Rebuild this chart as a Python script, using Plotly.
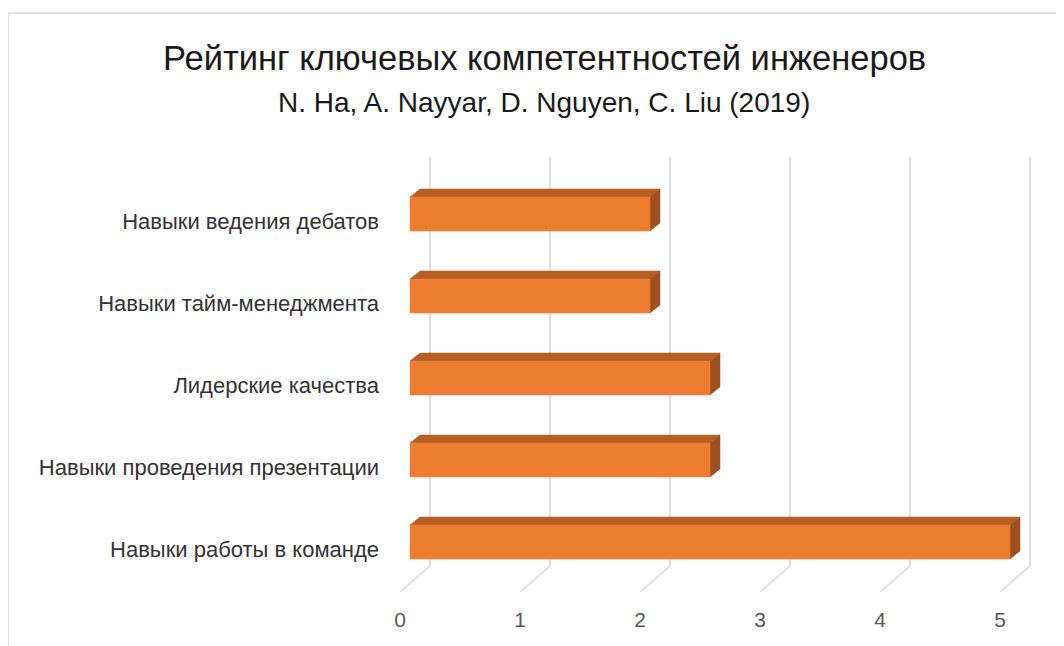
import plotly.graph_objects as go

# ---- data ----
categories = [
    "Навыки работы в команде",
    "Навыки проведения презентации",
    "Лидерские качества",
    "Навыки тайм-менеджмента",
    "Навыки ведения дебатов",
]
values = [5, 2.5, 2.5, 2, 2]
x_ticks = [0, 1, 2, 3, 4, 5]
title_text = "Рейтинг ключевых компетентностей инженеров"
subtitle_text = "N. Ha, A. Nayyar, D. Nguyen, C. Liu (2019)"

# ---- style / geometry (figure pixel coords; page adds 8px body margin) ----
W, H = 1064, 646
OFF = 8
L, R, T, B = 400 - OFF, W - (1040 - OFF), 140 - OFF, H - (596 - OFF)
PX_PER_X = 120.0
PX_PER_Y = 82.0
plot_w = W - L - R
plot_h = H - T - B
x_range = [0, plot_w / PX_PER_X]
CAT0 = 542 - OFF  # figure pixel of first category's centre
y_lo = -((H - B) - CAT0) / PX_PER_Y
y_hi = y_lo + plot_h / PX_PER_Y

bar_w = 34 / PX_PER_Y
bar_base = 10 / PX_PER_X
dx = 10 / PX_PER_X
dy = 8 / PX_PER_Y
wall_dx = 30 / PX_PER_X
wall_top = (542 - 157) / PX_PER_Y
wall_bot = (542 - 566) / PX_PER_Y
floor_front = (542 - 592) / PX_PER_Y

FRONT = "#ED7D31"
TOP = "#B65F24"
SIDE = "#9C5020"
GRID = "#D9D9D9"

idx = list(range(len(categories)))

fig = go.Figure()

# grid: back wall verticals + floor diagonals
gx, gy = [], []
for t in x_ticks:
    gx += [t + wall_dx, t + wall_dx, t, None]
    gy += [wall_top, wall_bot, floor_front, None]
fig.add_trace(go.Scatter(x=gx, y=gy, mode="lines", line=dict(color=GRID, width=1.6),
                         hoverinfo="skip", showlegend=False))

# bar faces (front, top, side) built from the values
fx, fy = [], []
tx, ty = [], []
sx, sy = [], []
for i, v in zip(idx, values):
    x0 = bar_base
    x1 = bar_base + v
    yt = i + bar_w / 2
    yb = i - bar_w / 2
    fx += [x0, x1, x1, x0, x0, None]
    fy += [yb, yb, yt, yt, yb, None]
    tx += [x0, x1, x1 + dx, x0 + dx, x0, None]
    ty += [yt, yt, yt + dy, yt + dy, yt, None]
    sx += [x1, x1 + dx, x1 + dx, x1, x1, None]
    sy += [yb, yb + dy, yt + dy, yt, yb, None]
fig.add_trace(go.Scatter(x=tx, y=ty, mode="lines", fill="toself", fillcolor=TOP,
                         line=dict(color=TOP, width=0.5), hoverinfo="skip", showlegend=False))
fig.add_trace(go.Scatter(x=sx, y=sy, mode="lines", fill="toself", fillcolor=SIDE,
                         line=dict(color=SIDE, width=0.5), hoverinfo="skip", showlegend=False))
fig.add_trace(go.Scatter(x=fx, y=fy, mode="lines", fill="toself", fillcolor=FRONT,
                         line=dict(color=FRONT, width=0.5), showlegend=False,
                         hoverinfo="skip"))

font_family = "Liberation Sans, Arial, sans-serif"

fig.update_layout(
    width=W, height=H,
    margin=dict(l=L, r=R, t=T, b=B),
    paper_bgcolor="white", plot_bgcolor="white",
    font=dict(family=font_family, color="#595959"),
    xaxis=dict(range=x_range, showgrid=False, zeroline=False, showline=False,
               tickmode="array", tickvals=x_ticks, ticktext=[str(t) for t in x_ticks],
               tickfont=dict(size=21, color="#595959"), ticks="", ticklabelstandoff=9),
    yaxis=dict(range=[y_lo, y_hi], showgrid=False, zeroline=False, showline=False,
               tickmode="array", tickvals=[i - 0.09 for i in idx], ticktext=categories,
               tickfont=dict(size=22, color="#333333"), ticks="", ticklabelstandoff=20),
    annotations=[
        dict(text=title_text, xref="paper", yref="paper",
             x=(544 - OFF - L) / plot_w, y=((H - B) - (58 - OFF)) / plot_h,
             xanchor="center", yanchor="middle",
             showarrow=False, font=dict(size=34.5, color="#1a1a1a", family=font_family)),
        dict(text=subtitle_text, xref="paper", yref="paper",
             x=(544 - OFF - L) / plot_w, y=((H - B) - (103 - OFF)) / plot_h,
             xanchor="center", yanchor="middle",
             showarrow=False, font=dict(size=28, color="#1a1a1a", family=font_family)),
    ],
    shapes=[
        dict(type="line", xref="paper", yref="paper",
             x0=(0 - L) / plot_w, x1=(0 - L) / plot_w,
             y0=((H - B) - 5) / plot_h, y1=((H - B) - 660) / plot_h,
             line=dict(color=GRID, width=1.5)),
        dict(type="line", xref="paper", yref="paper",
             x0=(0 - L) / plot_w, x1=(1070 - L) / plot_w,
             y0=((H - B) - 5) / plot_h, y1=((H - B) - 5) / plot_h,
             line=dict(color=GRID, width=1.5)),
    ],
)

fig.write_html("out.html")
